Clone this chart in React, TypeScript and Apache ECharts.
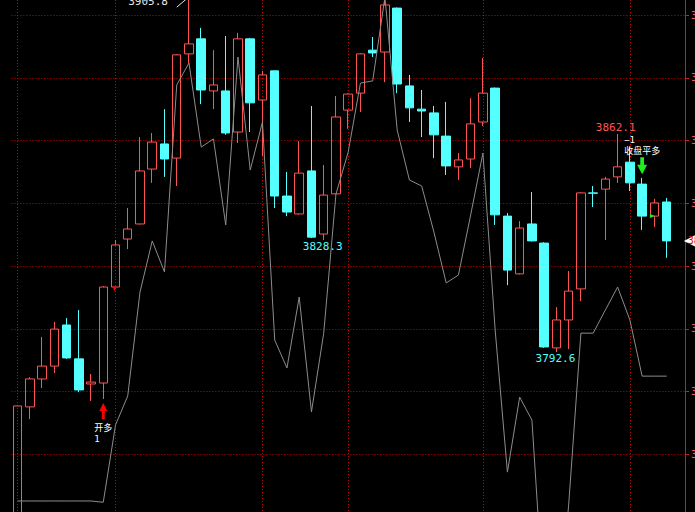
import React, { useEffect, useRef } from 'react';
import * as echarts from 'echarts';

// Bar labels (one per candle, plus an empty slot at the right edge)
const categories = [
  '1', '2', '3', '4', '5', '6', '7', '8', '9', '10',
  '11', '12', '13', '14', '15', '16', '17', '18', '19', '20',
  '21', '22', '23', '24', '25', '26', '27', '28', '29', '30',
  '31', '32', '33', '34', '35', '36', '37', '38', '39', '40',
  '41', '42', '43', '44', '45', '46', '47', '48', '49', '50',
  '51', '52', '53', '54', ' ',
];

const opens = [
  3735.9, 3775.1, 3784.0, 3788.1, 3801.2, 3790.4, 3782.4, 3782.7, 3813.3, 3828.6,
  3833.4, 3850.9, 3858.9, 3854.4, 3887.6, 3892.4, 3875.8, 3875.8, 3862.7, 3892.4,
  3872.9, 3882.2, 3842.3, 3836.6, 3850.3, 3830.2, 3843.0, 3869.7, 3875.1, 3888.8,
  3888.2, 3902.2, 3877.4, 3870.0, 3868.8, 3861.4, 3851.6, 3854.1, 3865.9, 3876.7,
  3835.9, 3817.5, 3833.4, 3827.3, 3793.9, 3802.8, 3812.7, 3843.3, 3844.5, 3848.4,
  3853.1, 3846.1, 3835.9, 3840.4,
];

const closes = [
  3775.4, 3784.0, 3788.1, 3799.9, 3790.7, 3780.5, 3783.0, 3813.3, 3826.7, 3831.8,
  3850.3, 3859.5, 3854.1, 3887.3, 3890.8, 3876.1, 3877.7, 3862.4, 3892.4, 3872.0,
  3880.9, 3842.3, 3837.2, 3849.6, 3829.2, 3842.6, 3867.5, 3874.8, 3887.6, 3887.9,
  3903.2, 3878.0, 3870.4, 3869.4, 3861.8, 3851.9, 3853.8, 3865.3, 3875.1, 3836.3,
  3818.7, 3832.1, 3828.0, 3794.2, 3802.8, 3812.0, 3843.3, 3843.2, 3847.7, 3851.6,
  3846.5, 3835.9, 3840.1, 3828.0,
];

const lows = [
  3730.0, 3771.2, 3781.1, 3785.9, 3790.4, 3779.8, 3777.0, 3777.6, 3813.0, 3825.4,
  3833.2, 3846.5, 3848.4, 3845.5, 3884.7, 3871.6, 3870.0, 3861.8, 3859.2, 3862.7,
  3855.1, 3838.5, 3835.9, 3836.4, 3828.9, 3828.3, 3842.8, 3863.7, 3869.1, 3886.6,
  3878.6, 3875.1, 3865.9, 3861.1, 3854.4, 3849.0, 3847.4, 3851.2, 3864.6, 3833.1,
  3813.9, 3817.3, 3827.8, 3793.9, 3792.6, 3793.5, 3808.8, 3838.8, 3828.3, 3846.5,
  3843.9, 3831.5, 3832.4, 3822.6,
];

const highs = [
  3775.4, 3784.6, 3797.4, 3802.2, 3803.4, 3806.0, 3785.6, 3813.6, 3828.3, 3838.5,
  3861.1, 3862.4, 3870.0, 3887.5, 3905.8, 3895.9, 3888.8, 3893.3, 3894.3, 3892.7,
  3882.2, 3882.3, 3850.0, 3859.8, 3871.0, 3852.2, 3874.2, 3875.0, 3887.8, 3893.0,
  3905.2, 3902.4, 3880.9, 3876.1, 3871.0, 3872.3, 3856.0, 3873.5, 3886.3, 3876.9,
  3836.9, 3834.3, 3843.6, 3827.6, 3806.9, 3818.4, 3843.5, 3845.5, 3848.4, 3862.1,
  3857.9, 3848.1, 3841.4, 3841.7,
];

// Gray indicator line
const indicatorLine = [
  3745.1, 3745.1, 3745.1, 3745.1, 3745.1, 3745.1, 3745.1, 3744.7, 3769.3, 3778.6,
  3811.7, 3828.0, 3818.1, 3877.7, 3884.7, 3857.9, 3860.5, 3833.1, 3886.6, 3850.6,
  3865.9, 3796.4, 3787.5, 3810.1, 3773.5, 3798.6, 3842.9, 3856.3, 3878.3, 3879.0,
  3905.7, 3863.3, 3847.4, 3845.5, 3830.8, 3814.6, 3817.1, 3836.3, 3856.0, 3799.6,
  3754.3, 3778.2, 3770.9, 3710.4, 3700.8, 3743.8, 3798.6, 3798.6, 3806.0, 3813.3,
  3802.8, 3784.9, 3784.9, 3784.9,
];

// Price axis ticks
const yMin = 3740;
const yMax = 3920;
const yStep = 20;

// Session start bars (vertical dotted lines)
const sessionStartBars = ['1', '9', '21', '28', '39', '51'];

// Extreme price labels
const highMarks = ['15', '50'];
const lowMarks = ['26', '45'];

// Trade signals
const openLongBar = '8';
const openLongText = '开多';
const openLongQty = '1';
const closeLongBar = '52';
const closeLongText = '收盘平多';
const closeLongQty = '−1';
const fillMarkBars = ['9', '53'];

const RED = '#ff5454';
const CYAN = '#54ffff';
const GRID_RED = '#d00000';
const AXIS_RED = '#c81e1e';
const MONO = 'DejaVu Sans Mono';
const CJK = 'Noto Sans CJK SC';

export default function App() {
  const ref = useRef<HTMLDivElement>(null);

  useEffect(() => {
    if (!ref.current) return;
    const chart = echarts.init(ref.current, null, { renderer: 'svg' });
    const candleData = opens.map((o, i) => [o, closes[i], lows[i], highs[i]]);
    const idx = (bar: string) => categories.indexOf(bar);
    const lastClose = closes[closes.length - 1];

    const markPoints: any[] = [];
    highMarks.forEach((bar, k) => {
      const v = highs[idx(bar)];
      if (k === 0) {
        markPoints.push({
          coord: [bar, v],
          symbolSize: 0,
          label: {
            show: true,
            formatter: v.toFixed(1),
            position: 'left',
            distance: 21,
            offset: [0, 5],
            color: '#e6e6e6',
            fontFamily: MONO,
            fontSize: 11,
          },
        });
      } else {
        markPoints.push({
          coord: [bar, v],
          symbolSize: 0,
          label: {
            show: true,
            formatter: v.toFixed(1),
            position: 'top',
            distance: 1,
            offset: [-2, 0],
            color: RED,
            fontFamily: MONO,
            fontSize: 11,
          },
        });
      }
    });
    lowMarks.forEach((bar) => {
      const v = lows[idx(bar)];
      markPoints.push({
        coord: [bar, v],
        symbolSize: 0,
        label: {
          show: true,
          formatter: v.toFixed(1),
          position: 'bottom',
          distance: 1,
          offset: [-1, 0],
          color: CYAN,
          fontFamily: MONO,
          fontSize: 11,
        },
      });
    });
    markPoints.push({
      coord: [openLongBar, lows[idx(openLongBar)]],
      symbol: 'path://M4,0L8,8L5.5,8L5.5,16L2.5,16L2.5,8L0,8Z',
      symbolSize: [8, 16],
      symbolOffset: [0, 12],
      itemStyle: { color: '#ff0000' },
      label: {
        show: true,
        position: 'bottom',
        distance: 2,
        formatter: `{a|${openLongText}}\n{b|${openLongQty}}`,
        rich: {
          a: { color: '#ffffff', fontSize: 9, fontFamily: CJK, lineHeight: 12 },
          b: { color: '#ffffff', fontSize: 9, fontFamily: MONO, lineHeight: 12, width: 18, align: 'left' },
        },
      },
    });
    markPoints.push({
      coord: [closeLongBar, highs[idx(closeLongBar)]],
      symbol: 'path://M2.5,0L5.5,0L5.5,7L8,7L4,16L0,7L2.5,7Z',
      symbolSize: [10, 17],
      symbolOffset: [0, -12],
      itemStyle: { color: '#1ef01e' },
      label: {
        show: true,
        position: 'top',
        distance: 1,
        formatter: `{b|${closeLongQty}}\n{a|${closeLongText}}`,
        rich: {
          a: { color: '#ffffff', fontSize: 9, fontFamily: CJK, lineHeight: 11 },
          b: { color: '#ffffff', fontSize: 9, fontFamily: MONO, lineHeight: 11, width: 36, align: 'left' },
        },
      },
    });
    // tiny fill flags at the candle bodies
    fillMarkBars.forEach((bar, k) => {
      markPoints.push({
        coord: [bar, opens[idx(bar)]],
        symbol: 'triangle',
        symbolRotate: k === 0 ? 180 : -90,
        symbolSize: [4, 5],
        symbolOffset: k === 0 ? [-1, 2] : [-2, 0],
        itemStyle: { color: k === 0 ? '#ff0000' : '#1ef01e' },
        label: { show: false },
      });
    });

    chart.setOption({
      animation: false,
      backgroundColor: '#000000',
      grid: {
        left: 11.4,
        right: 10,
        top: -47.75,
        bottom: -5,
        containLabel: false,
        outerBoundsMode: 'none',
      },
      xAxis: {
        type: 'category',
        data: categories,
        boundaryGap: true,
        axisLine: { show: false },
        axisTick: { show: false },
        axisLabel: { show: false },
        splitLine: { show: false },
      },
      yAxis: {
        type: 'value',
        position: 'right',
        min: yMin,
        max: yMax,
        interval: yStep,
        axisLine: { show: true, lineStyle: { color: AXIS_RED, width: 1 } },
        axisTick: { show: true, length: 4, lineStyle: { color: AXIS_RED } },
        axisLabel: {
          show: true,
          color: RED,
          fontSize: 10,
          fontFamily: MONO,
          margin: 6,
          formatter: (v: number) => String(v),
        },
        splitLine: { show: true, lineStyle: { color: GRID_RED, type: [1, 2], width: 1 } },
      },
      series: [
        {
          type: 'candlestick',
          data: candleData,
          barWidth: 9,
          z: 2,
          itemStyle: {
            color: 'rgba(0,0,0,0)',
            color0: CYAN,
            borderColor: RED,
            borderColor0: CYAN,
            borderWidth: 1,
          },
          markLine: {
            silent: true,
            z: 1,
            symbol: ['none', 'none'],
            label: { show: false },
            lineStyle: { color: GRID_RED, type: [1, 2], width: 1 },
            data: [
              ...sessionStartBars.map((b) => ({ xAxis: b })),
              [
                { coord: ['14', 3902.5], lineStyle: { color: '#e6e6e6', type: 'solid', width: 1 } },
                { coord: ['15', highs[idx('15')]] },
              ],
            ],
          },
          markPoint: {
            silent: true,
            data: markPoints,
          },
        },
        {
          type: 'line',
          data: indicatorLine,
          z: 3,
          symbol: 'none',
          clip: true,
          lineStyle: { color: '#8c8c8c', width: 1 },
          itemStyle: { color: '#8c8c8c' },
          markPoint: {
            silent: true,
            data: [
              {
                coord: [categories[categories.length - 1], lastClose],
                symbol: 'path://M0,6L6,0L20,0L20,12L6,12Z',
                symbolSize: [40, 12],
                symbolOffset: [25, 0],
                symbolKeepAspect: false,
                itemStyle: { color: '#ffffff' },
                label: {
                  show: true,
                  position: 'inside',
                  offset: [2, 0],
                  formatter: lastClose.toFixed(1),
                  color: '#e00000',
                  fontFamily: MONO,
                  fontSize: 10,
                },
              },
            ],
          },
        },
      ],
    });

    return () => chart.dispose();
  }, []);

  return (
    <div
      ref={ref}
      style={{ position: 'fixed', left: 0, top: 0, width: 695, height: 512, background: '#000' }}
    />
  );
}
